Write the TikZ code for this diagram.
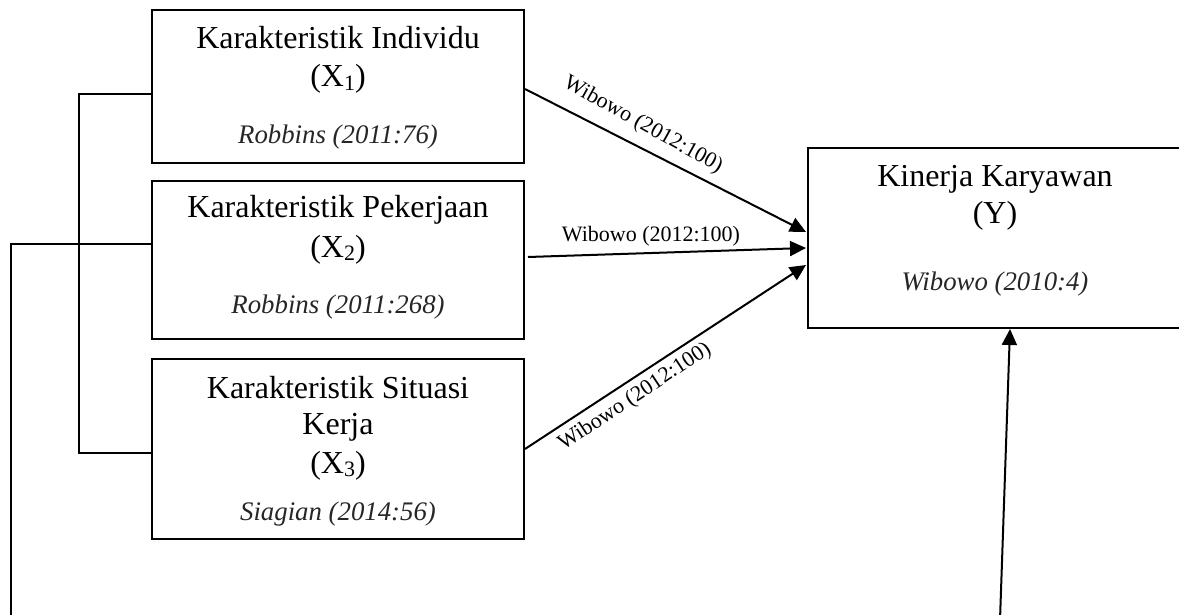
\documentclass[tikz,border=0pt]{standalone}
\usepackage{fontspec}
\setmainfont{Liberation Serif}
\usetikzlibrary{arrows.meta,calc}
\newcommand{\subx}[1]{\raisebox{-1.6pt}{\fontsize{11}{12}\selectfont #1}}
\tikzset{
  box/.style={draw=black, line width=1pt, rectangle, inner sep=0pt, minimum width=186pt},
  ttl/.style={anchor=base, inner sep=0pt, font=\fontsize{16}{19}\selectfont},
  cite/.style={anchor=base, inner sep=0pt, text=black!85, font=\fontsize{13.4}{16}\selectfont\itshape},
  lbl/.style={inner sep=0pt, font=\fontsize{11}{12}\selectfont},
  arr/.style={line width=1pt, -{Triangle[length=8pt,width=7.5pt]}},
  brk/.style={line width=0.75pt}
}
\begin{document}
\begin{tikzpicture}[x=0.5pt, y=-0.5pt]
\useasboundingbox (0,0) rectangle (1179,615);
\clip (0,0) rectangle (1179,615);
% boxes
\node[box, minimum height=76.5pt] (b1) at (338,86.5) {};
\node[box, minimum height=79pt] (b2) at (338,260) {};
\node[box, minimum height=90pt] (b3) at (338,449) {};
\node[box, minimum width=187pt, minimum height=90pt] (by) at (995,238) {};
% texts box 1
\node[ttl] (t1a) at (338,49) {Karakteristik Individu};
\node[ttl] (t1b) at (338,87) {(X\subx{1})};
\node[cite] (t1c) at (338,144) {Robbins (2011:76)};
% texts box 2
\node[ttl] (t2a) at (338,218) {Karakteristik Pekerjaan};
\node[ttl] (t2b) at (338,257) {(X\subx{2})};
\node[cite] (t2c) at (338,314) {Robbins (2011:268)};
% texts box 3
\node[ttl] (t3a) at (338,398) {Karakteristik Situasi};
\node[ttl] (t3b) at (338,434) {Kerja};
\node[ttl] (t3c) at (338,473) {(X\subx{3})};
\node[cite] (t3d) at (338,520) {Siagian (2014:56)};
% texts box Y
\node[ttl] (tya) at (995,187) {Kinerja Karyawan};
\node[ttl] (tyb) at (995,223) {(Y)};
\node[cite] (tyc) at (995,290) {Wibowo (2010:4)};
% arrows
\draw[arr] ($(b1.east)+(0,2.5)$) -- ($(by.west)+(-1,-6)$);
\draw[arr] ($(b2.east)+(3,-3)$) -- ($(by.west)+(-1,10)$);
\draw[arr] (b3.east) -- ($(by.west)+(-1,27)$);
\coordinate (bot) at (1000,620);
\draw[arr] (bot) -- ($(by.south)+(15,0)$);
% labels
\node[lbl, rotate=-29] (l1) at (643,125) {Wibowo (2012:100)};
\node[lbl, anchor=base] (l2) at (651,242) {Wibowo (2012:100)};
\node[lbl, rotate=33.5] (l3) at (635,397) {Wibowo (2012:100)};
% brackets
\coordinate (ca1) at (79,94);
\coordinate (ca2) at (79,453);
\draw[brk] ($(b1.west)+(0,7.5)$) -- (ca1) -- (ca2) -- ($(b3.west)+(0,4)$);
\coordinate (cb1) at (11,244);
\coordinate (cb2) at (11,620);
\draw[brk] ($(b2.west)+(0,-16)$) -- (cb1) -- (cb2);
\end{tikzpicture}
\end{document}
